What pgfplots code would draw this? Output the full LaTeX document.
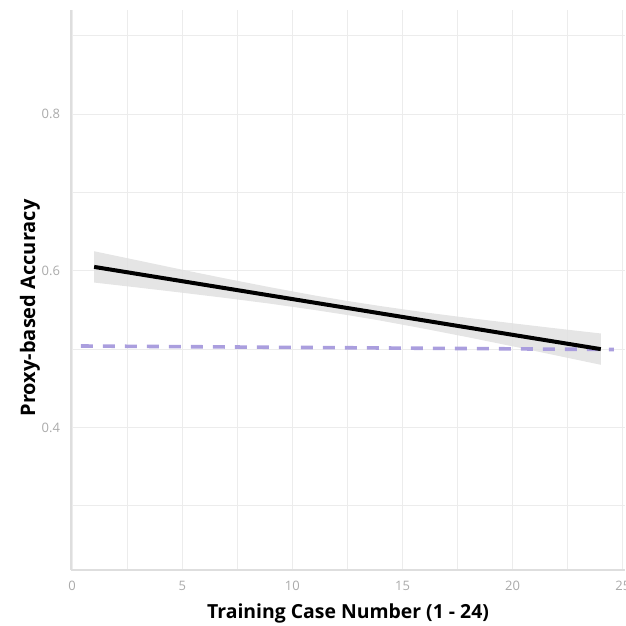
\documentclass[border=0pt]{standalone}
\usepackage{pgfplots}
\pgfplotsset{compat=1.18}
\usepackage{fontspec}
\setmainfont{Open Sans}
\definecolor{gridc}{RGB}{236,236,236}
\definecolor{axc}{RGB}{222,222,222}
\definecolor{tickc}{RGB}{170,170,170}
\definecolor{ribbon}{RGB}{225,225,225}
\definecolor{lav}{RGB}{170,158,222}
\begin{document}
\begin{tikzpicture}
\useasboundingbox (0,0) rectangle (313pt,313pt);
\begin{axis}[
  at={(35.5pt,28pt)}, anchor=south west,
  scale only axis, width=277pt, height=280pt,
  xmin=-0.05, xmax=25.1, ymin=0.218, ymax=0.933,
  axis x line=bottom, axis y line=left,
  axis line style={-, draw=axc, line width=1.3pt},
  xtick={0,5,10,15,20,25}, minor xtick={2.5,7.5,12.5,17.5,22.5},
  ytick={0.4,0.6,0.8}, minor ytick={0.3,0.5,0.7,0.9},
  xticklabels={0,5,10,15,20,25},
  yticklabels={0.4,0.6,0.8},
  major tick length=0pt, minor tick length=0pt,
  grid=both,
  major grid style={draw=gridc, line width=0.6pt},
  minor grid style={draw=gridc, line width=0.6pt},
  tick label style={font=\fontsize{6.5}{7}\selectfont, text=tickc},
  /pgf/number format/assume math mode=true,
  xticklabel style={yshift=-2pt},
  yticklabel style={xshift=-2pt},
  xlabel={\textbf{Training Case Number (1 - 24)}},
  ylabel={\textbf{Proxy-based Accuracy}},
  xlabel style={font=\fontsize{9.7}{12}\selectfont, at={(axis description cs:0.5,-0.077)}, anchor=center},
  ylabel style={font=\fontsize{10}{12}\selectfont, at={(axis description cs:-0.074,0.468)}, anchor=center},
  clip=false,
]
\addplot[draw=none, fill=ribbon, fill opacity=0.85] coordinates {
(1,0.6250) (3,0.6132) (5,0.6014) (7,0.5900) (9,0.5790) (11,0.5686) (12.5,0.5615)
(14,0.5550) (16,0.5470) (18,0.5398) (20,0.5330) (22,0.5264) (24,0.5200)
(24,0.4800) (22,0.4918) (20,0.5036) (18,0.5150) (16,0.5260) (14,0.5364)
(12.5,0.5435) (11,0.5500) (9,0.5580) (7,0.5652) (5,0.5720) (3,0.5786) (1,0.5850)
} -- cycle;
\addplot[lav, line width=1.8pt, dash pattern=on 6pt off 5pt] coordinates {
(0.4,0.5040) (24.6,0.4995)
};
\addplot[black, line width=2pt] coordinates {
(1,0.6050) (24,0.5000)
};
\end{axis}
\end{tikzpicture}
\end{document}
